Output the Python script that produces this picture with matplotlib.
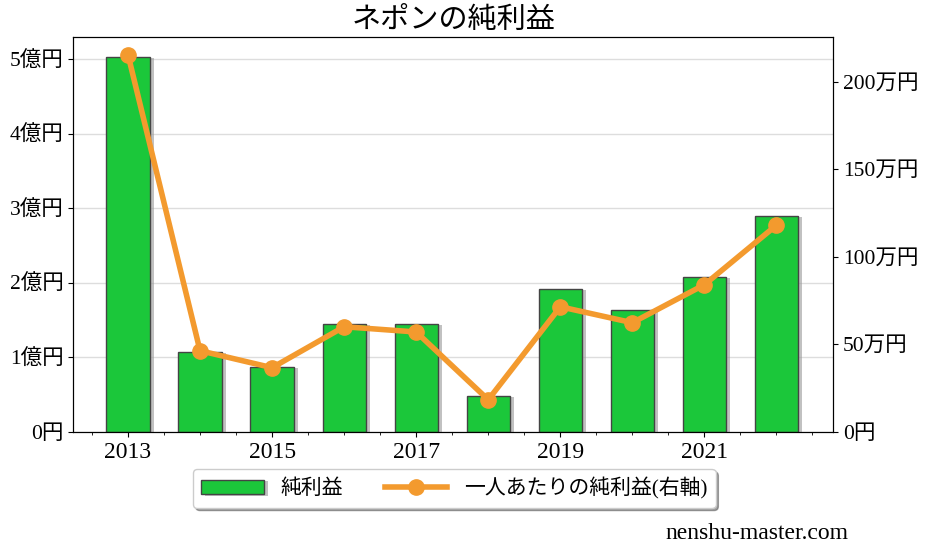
import matplotlib.pyplot as plt
import matplotlib.patheffects as pe
from matplotlib.ticker import FuncFormatter, MultipleLocator

plt.rcParams['font.family'] = ['Liberation Serif', 'Noto Sans CJK JP']

years = [2013, 2014, 2015, 2016, 2017, 2018, 2019, 2020, 2021, 2022]
profit = [5.03, 1.07, 0.87, 1.45, 1.45, 0.48, 1.92, 1.64, 2.08, 2.90]   # 億円
per_person = [215.4, 46.3, 36.6, 60.0, 57.0, 18.3, 71.4, 62.3, 84.0, 118.0]  # 万円
year_ticks = [2013, 2015, 2017, 2019, 2021]

fig = plt.figure(figsize=(9.27, 5.55), dpi=100)
ax = fig.add_axes([0.079, 0.222, 0.820, 0.712])

bars = ax.bar(years, profit, width=0.6, color='#1bc73a', edgecolor='#444444',
              linewidth=1, label='純利益', zorder=2)
for b in bars:
    b.set_path_effects([pe.SimplePatchShadow(offset=(3, -1), shadow_rgbFace='#999999', alpha=0.6),
                        pe.Normal()])

ax.set_ylim(0, 5.3)
ax.set_xlim(2012.24, 2022.79)
ax.yaxis.set_major_locator(MultipleLocator(1))
ax.yaxis.set_major_formatter(FuncFormatter(lambda v, p: '0円' if v == 0 else '%d億円' % v))
ax.set_xticks(year_ticks)
ax.set_xticklabels([str(y) for y in year_ticks])
ax.xaxis.set_minor_locator(MultipleLocator(0.5))
ax.grid(axis='y', color='#dddddd', linewidth=1, zorder=0)
ax.set_axisbelow(True)
ax.tick_params(axis='y', labelsize=15.5)
ax.tick_params(axis='x', labelsize=17)

ax2 = ax.twinx()
line, = ax2.plot(years, per_person, color='#f39a2e', linewidth=4, marker='o',
                 markersize=11, label='一人あたりの純利益(右軸)', zorder=3)
ax2.set_ylim(0, 225.7)
ax2.yaxis.set_major_locator(MultipleLocator(50))
ax2.yaxis.set_major_formatter(FuncFormatter(lambda v, p: '0円' if v == 0 else '%d万円' % v))
ax2.tick_params(labelsize=15.5)

ax.set_title('ネポンの純利益', fontsize=21, pad=6)

leg = fig.legend([bars, line], ['純利益', '一人あたりの純利益(右軸)'], loc='center',
                 bbox_to_anchor=(0.49, 0.12), ncol=2, fontsize=15, shadow=True,
                 fancybox=True, columnspacing=2.0, handlelength=3)

fig.text(0.915, 0.02, 'nenshu-master.com', ha='right', va='bottom', fontsize=17)

plt.savefig('out.png', dpi=100)
